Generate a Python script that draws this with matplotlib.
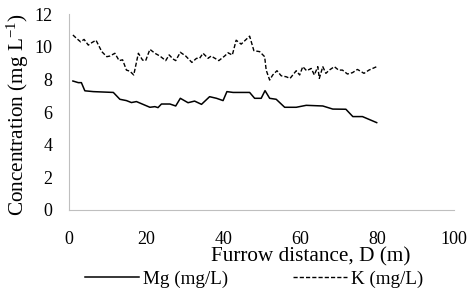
import matplotlib.pyplot as plt

plt.rcParams['font.family'] = ['Liberation Serif', 'DejaVu Serif']
plt.rcParams['mathtext.fontset'] = 'custom'
plt.rcParams['mathtext.rm'] = 'Liberation Serif'

mg_x = [1, 2.4, 3.2, 4.1, 6.3, 11.5, 13.2, 14.9, 16.2, 17.5, 21, 22.3, 23.1, 24, 26.2,
        27.7, 28.9, 30.9, 32.6, 34.4, 36.5, 38.3, 40, 41, 42.6, 46.9, 48.2, 49.9, 50.9,
        52.1, 53.8, 56, 59, 61.6, 65.9, 68.5, 71.9, 73.7, 76.2, 79.9]
mg_y = [7.9, 7.8, 7.8, 7.3, 7.25, 7.2, 6.78, 6.7, 6.58, 6.64, 6.29, 6.33, 6.27, 6.49, 6.49,
        6.37, 6.84, 6.57, 6.67, 6.47, 6.94, 6.84, 6.7, 7.25, 7.2, 7.2, 6.84, 6.84, 7.31,
        6.84, 6.78, 6.29, 6.29, 6.41, 6.37, 6.18, 6.17, 5.72, 5.72, 5.35]

k_x = [1, 2, 3, 3.9, 5, 5.9, 7, 8.5, 9.8, 10.6, 11.9, 13, 13.9, 14.9, 15.8, 16.8, 18,
       19.1, 19.9, 21, 22.3, 23.6, 25.1, 26, 27, 27.7, 28.9, 30.3, 31.9, 33.1, 33.9, 34.8,
       36.1, 36.9, 38.9, 40.4, 41.3, 42.4, 43.4, 44.7, 46.9, 48, 49.5, 50.8, 51.2, 52.1,
       52.9, 54, 55.1, 56.4, 57.4, 59, 59.9, 60.7, 61.7, 62.9, 63.7, 64.6, 65, 65.9, 66.7,
       67.6, 68.9, 70, 71, 72.3, 73.6, 74.9, 76.6, 77.9, 79.9]
k_y = [10.72, 10.5, 10.3, 10.45, 10.1, 10.25, 10.4, 9.7, 9.39, 9.43, 9.6, 9.15, 9.2, 8.57,
       8.5, 8.27, 9.6, 9.18, 9.15, 9.84, 9.6, 9.43, 9.15, 9.5, 9.25, 9.15, 9.66, 9.43, 9.04,
       9.29, 9.29, 9.6, 9.29, 9.43, 9.15, 9.43, 9.63, 9.49, 10.4, 10.16, 10.65, 9.76, 9.7,
       9.39, 8.57, 7.96, 8.27, 8.53, 8.22, 8.16, 8.06, 8.53, 8.27, 8.78, 8.53, 8.67, 8.27,
       8.78, 8.06, 8.78, 8.37, 8.57, 8.78, 8.57, 8.57, 8.33, 8.41, 8.61, 8.37, 8.57, 8.78]

fig = plt.figure(figsize=(4.73, 2.94), dpi=100)
ax = fig.add_axes([0.146, 0.286, 0.814, 0.666])

ax.plot(mg_x, mg_y, color='black', lw=1.1, label='Mg (mg/L)')
ax.plot(k_x, k_y, color='black', lw=1.0, linestyle=(0, (3, 1.5)), label='K (mg/L)')

ax.set_xlim(0, 100)
ax.set_ylim(0, 12)
ax.set_xticks(range(0, 101, 20))
ax.set_yticks(range(0, 13, 2))
ax.tick_params(length=0, labelsize=13, colors='black')
ax.tick_params(axis='x', pad=15)
ax.tick_params(axis='y', pad=12)
for s in ['top', 'right']:
    ax.spines[s].set_visible(False)
for s in ['left', 'bottom']:
    ax.spines[s].set_color('#bfbfbf')

fig.text(0.657, 0.112, 'Furrow distance, D (m)', ha='center', va='baseline', fontsize=15.3)
fig.text(0.037, 0.61, r'Concentration (mg L$\mathregular{^{-1}}$)', rotation=90,
         va='center', ha='center', fontsize=15.3)

fig.legend(loc='center', bbox_to_anchor=(0.538, 0.051), ncol=2, frameon=False,
           fontsize=13.7, handlelength=2.8, columnspacing=3.4, handletextpad=0.25)

fig.savefig('out.png', dpi=100)
